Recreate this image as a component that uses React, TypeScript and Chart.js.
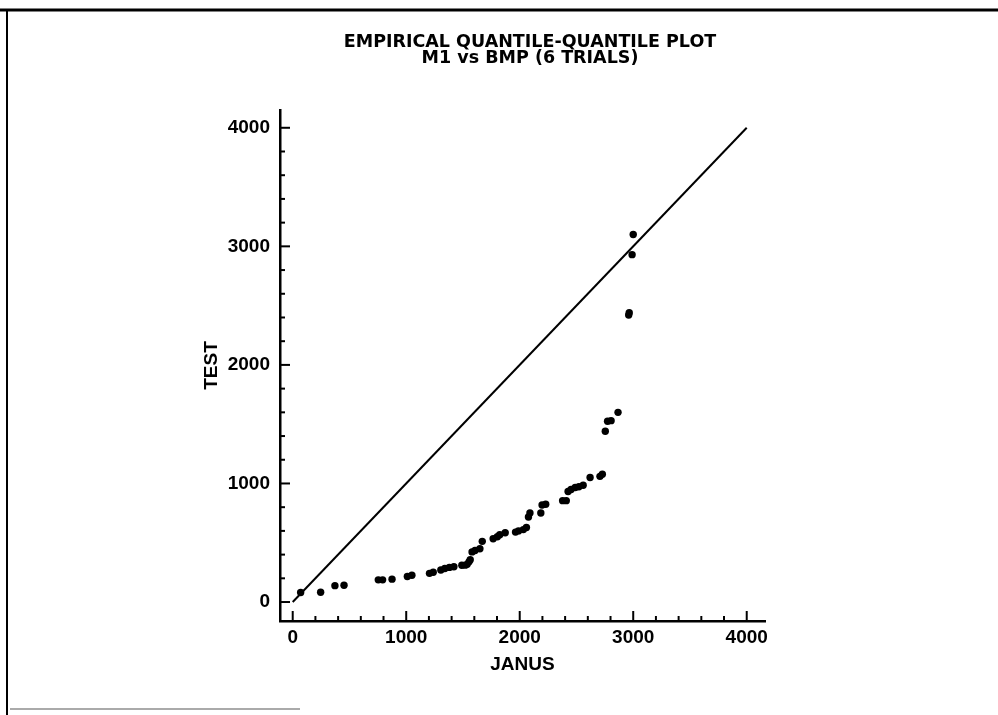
import React, { useEffect, useRef } from "react";
import { Chart, registerables } from "chart.js";

Chart.register(...registerables);

// Sorted quantiles (JANUS on x, TEST on y)
const janusQuantiles = [
  70, 246, 372, 452, 754, 792, 875, 1010, 1050, 1205, 1238, 1305, 1340, 1380, 1420,
  1490, 1520, 1537, 1553, 1564, 1580, 1606, 1649, 1670, 1766, 1803, 1824, 1872,
  1963, 1989, 2032, 2059, 2077, 2090, 2186, 2197, 2229, 2378, 2410, 2426, 2452,
  2489, 2521, 2559, 2620, 2707, 2728, 2754, 2774, 2805, 2866, 2960, 2965, 2990, 3000,
];
const testQuantiles = [
  80, 82, 138, 142, 187, 187, 193, 215, 226, 242, 251, 270, 283, 292, 297,
  310, 311, 318, 339, 356, 423, 434, 450, 512, 534, 550, 567, 584,
  590, 600, 611, 628, 717, 751, 751, 819, 825, 855, 855, 932, 949,
  966, 972, 985, 1050, 1060, 1078, 1440, 1525, 1530, 1600, 2420, 2440, 2930, 3100,
];

// Reference line y = x
const refLineX = [0, 4000];
const refLineY = [0, 4000];

const majorTicks = [0, 1000, 2000, 3000, 4000];
const minorTicks = [
  200, 400, 600, 800, 1200, 1400, 1600, 1800, 2200, 2400, 2600, 2800,
  3200, 3400, 3600, 3800,
];

const titleLines = ["EMPIRICAL QUANTILE-QUANTILE PLOT", "M1 vs BMP (6 TRIALS)"];
const xTitle = "JANUS";
const yTitle = "TEST";

const LABEL_FONT = '"Liberation Sans", Arial, Helvetica, sans-serif';
const TITLE_FONT = '"DejaVu Sans", "Liberation Sans", Arial, sans-serif';

export default function App() {
  const ref = useRef<HTMLCanvasElement>(null);

  useEffect(() => {
    const canvas = ref.current;
    if (!canvas) return;
    const font = (family: string, size: number) => ({ family, size, weight: "bold" as const, lineHeight: 1 });

    const framePlugin = {
      id: "pageFrame",
      beforeDraw(chart: any) {
        const c = chart.ctx;
        c.save();
        c.fillStyle = "#ffffff";
        c.fillRect(0, 0, chart.width, chart.height);
        c.strokeStyle = "#000";
        c.lineWidth = 3;
        c.beginPath();
        c.moveTo(0, 10);
        c.lineTo(chart.width, 10);
        c.stroke();
        c.lineWidth = 2;
        c.beginPath();
        c.moveTo(7, 9);
        c.lineTo(7, chart.height);
        c.stroke();
        c.strokeStyle = "#aaa";
        c.beginPath();
        c.moveTo(10, 709);
        c.lineTo(300, 709);
        c.stroke();
        c.restore();
      },
    };

    const tickPlugin = {
      id: "inwardTicks",
      afterDraw(chart: any) {
        const { ctx, chartArea, scales } = chart;
        const xs = scales.x;
        const ys = scales.y;
        ctx.save();
        ctx.strokeStyle = "#000";
        ctx.lineWidth = 2;
        const draw = (vals: number[], len: number) => {
          for (const v of vals) {
            const px = xs.getPixelForValue(v);
            ctx.beginPath();
            ctx.moveTo(px, chartArea.bottom);
            ctx.lineTo(px, chartArea.bottom - len - 1);
            ctx.stroke();
            const py = ys.getPixelForValue(v);
            ctx.beginPath();
            ctx.moveTo(chartArea.left, py);
            ctx.lineTo(chartArea.left + len + 1, py);
            ctx.stroke();
          }
        };
        draw(majorTicks, 9);
        draw(minorTicks, 4);
        ctx.restore();
      },
    };

    const chart = new Chart(canvas, {
      type: "scatter",
      data: {
        datasets: [
          {
            type: "line",
            data: refLineX.map((x, i) => ({ x, y: refLineY[i] })),
            borderColor: "#000",
            borderWidth: 2,
            pointRadius: 0,
            fill: false,
          } as any,
          {
            type: "scatter",
            data: janusQuantiles.map((x, i) => ({ x, y: testQuantiles[i] })),
            backgroundColor: "#000",
            borderColor: "#000",
            borderWidth: 0,
            pointRadius: 3.7,
          },
        ],
      },
      options: {
        responsive: false,
        animation: false,
        devicePixelRatio: 1,
        layout: { padding: { left: 202, right: 140, top: 10, bottom: 41 } },
        plugins: {
          legend: { display: false },
          tooltip: { enabled: false },
          title: {
            display: true,
            text: titleLines,
            color: "#000",
            font: { family: TITLE_FONT, size: 17.5, weight: "bold", lineHeight: 16 / 17.5 },
            padding: { top: 24, bottom: 44 },
            fullSize: true,
          },
        },
        scales: {
          x: {
            type: "linear",
            position: "bottom",
            min: -112,
            max: 4161,
            afterBuildTicks: (s: any) => {
              s.ticks = majorTicks.map((v) => ({ value: v }));
            },
            afterFit: (s: any) => {
              s.height = 53;
            },
            grid: { display: false, drawTicks: false },
            border: { display: true, color: "#000", width: 2.5 },
            ticks: {
              color: "#000",
              font: font(LABEL_FONT, 19),
              padding: 7,
              maxRotation: 0,
              autoSkip: false,
              callback: (v: any) => String(v),
            },
            title: { display: true, text: xTitle, color: "#000", font: font(LABEL_FONT, 19), padding: 0 },
          },
          y: {
            type: "linear",
            position: "left",
            min: -160,
            max: 4150,
            afterBuildTicks: (s: any) => {
              s.ticks = majorTicks.map((v) => ({ value: v }));
            },
            afterFit: (s: any) => {
              s.width = 78;
            },
            grid: { display: false, drawTicks: false },
            border: { display: true, color: "#000", width: 2.5 },
            ticks: {
              color: "#000",
              font: font(LABEL_FONT, 19),
              padding: 10,
              autoSkip: false,
              callback: (v: any) => String(v),
            },
            title: { display: true, text: yTitle, color: "#000", font: font(LABEL_FONT, 19), padding: 0 },
          },
          y2: {
            type: "linear",
            position: "right",
            display: true,
            grid: { display: false, drawTicks: false },
            border: { display: false },
            ticks: { display: false },
            afterFit: (s: any) => {
              s.width = 93;
            },
          },
        },
      } as any,
      plugins: [framePlugin, tickPlugin],
    });

    return () => chart.destroy();
  }, []);

  return (
    <div style={{ position: "absolute", left: 0, top: 0, width: 998, height: 715, background: "#fff" }}>
      <canvas ref={ref} width={998} height={715} style={{ display: "block", width: 998, height: 715 }} />
    </div>
  );
}
